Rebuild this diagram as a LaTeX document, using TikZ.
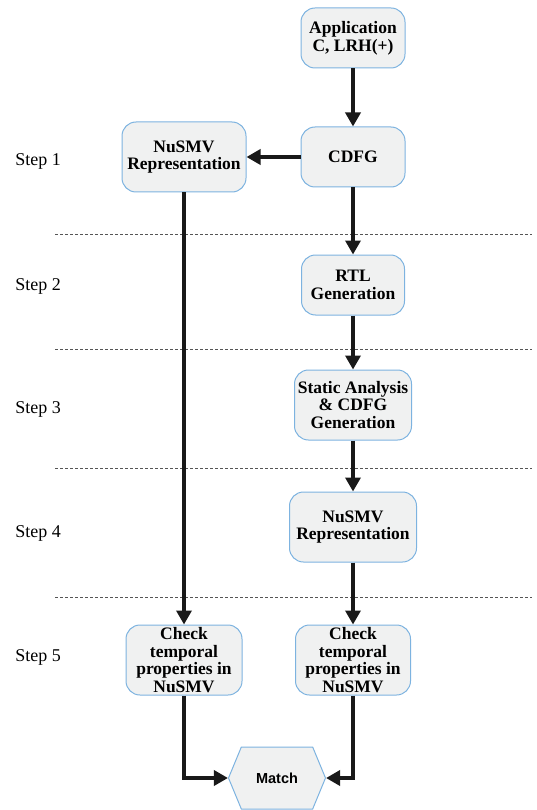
\documentclass[tikz,border=0pt]{standalone}
\usepackage{fontspec}
\setmainfont{Liberation Serif}
\setsansfont{Liberation Sans}
\usepackage{tikz}
\usetikzlibrary{positioning, arrows.meta, shapes.symbols}
\usepackage{xcolor}
\definecolor{boxfill}{HTML}{F0F1F1}
\definecolor{boxline}{HTML}{7DB3E0}
\definecolor{sepline}{HTML}{555555}

\begin{document}
\begin{tikzpicture}[
  x=1pt, y=-1pt,
  box/.style={draw=boxline, fill=boxfill, line width=1pt, rounded corners=14pt, align=center,
    inner sep=1pt, font=\bfseries\fontsize{17.5}{17.7}\selectfont},
  hexa/.style={draw=boxline, fill=boxfill, line width=1pt, signal, signal to=west and east,
    signal pointer angle=135, inner sep=2pt, font=\sffamily\bfseries\fontsize{14.5}{16}\selectfont},
  arrow/.style={-{Triangle[length=14pt, width=15pt]}, line width=3.4pt, draw=black!90},
  steplabel/.style={font=\fontsize{18}{20}\selectfont}
]
\useasboundingbox (0,0) rectangle (536,810);

% separators
\foreach \y in {234, 349, 468, 597}
  \draw[sepline, line width=0.9pt, dash pattern=on 3pt off 2pt] (55,\y) -- (532,\y);

% step labels
\foreach \i/\y in {1/161, 2/286, 3/409, 4/533, 5/657}
  \node[steplabel] (step\i) at (38,\y) {Step \i};

% nodes
\node[box, minimum width=104pt, minimum height=60pt] (app) at (353,38) {Application\\C, LRH(+)};
\node[box, minimum width=104pt, minimum height=60pt] (cdfg) at (353,157) {CDFG};
\node[box, minimum width=124pt, minimum height=70pt] (nusmvL) at (184,157) {NuSMV\\Representation};
\node[box, minimum width=103pt, minimum height=60pt] (rtl) at (353,285) {RTL\\Generation};
\node[box, minimum width=117pt, minimum height=70pt] (static) at (353,405) {Static Analysis\\\& CDFG\\Generation};
\node[box, minimum width=127pt, minimum height=70pt] (nusmvR) at (353,527) {NuSMV\\Representation};
\node[box, minimum width=116pt, minimum height=70pt] (checkL) at (184,660) {Check\\temporal\\properties in\\NuSMV};
\node[box, minimum width=115pt, minimum height=70pt] (checkR) at (353,660) {Check\\temporal\\properties in\\NuSMV};
\node[hexa, minimum width=97pt, minimum height=62pt] (match) at (277,778) {Match};

% connectors
\draw[arrow] (app) -- (cdfg);
\draw[arrow] (cdfg) -- (nusmvL);
\draw[arrow] (nusmvL) -- (checkL);
\draw[arrow] (cdfg) -- (rtl);
\draw[arrow] (rtl) -- (static);
\draw[arrow] (static) -- (nusmvR);
\draw[arrow] (nusmvR) -- (checkR);
\draw[arrow] (checkL.south) |- (match.west);
\draw[arrow] (checkR.south) |- (match.east);
\end{tikzpicture}
\end{document}
